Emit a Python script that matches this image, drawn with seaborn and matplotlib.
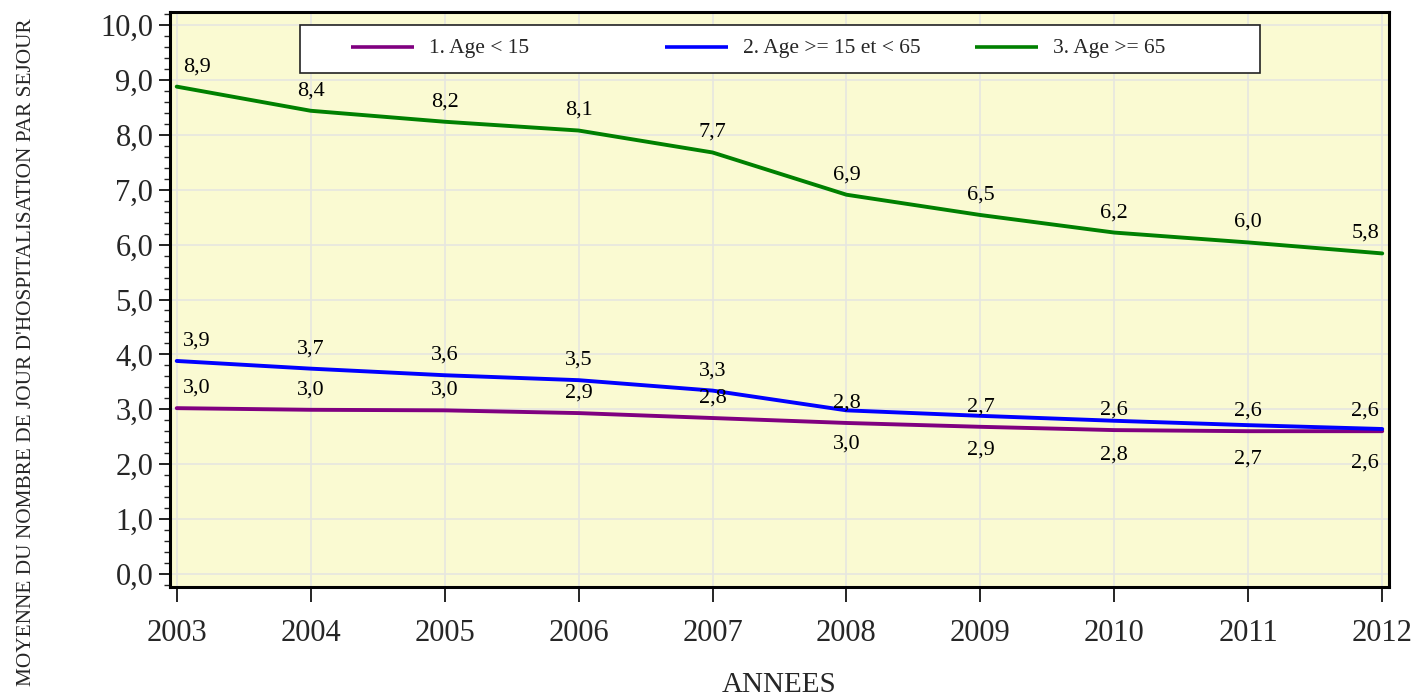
import matplotlib
matplotlib.use("Agg")
import matplotlib.pyplot as plt
import matplotlib.ticker as mticker
from matplotlib.patches import Rectangle
import numpy as np
import pandas as pd
import seaborn as sns

annees = [2003, 2004, 2005, 2006, 2007, 2008, 2009, 2010, 2011, 2012]
age_moins_15 = [3.02, 2.99, 2.98, 2.93, 2.84, 2.75, 2.68, 2.62, 2.60, 2.60]
age_15_65 = [3.88, 3.74, 3.62, 3.53, 3.34, 2.98, 2.88, 2.79, 2.71, 2.64]
age_65_plus = [8.88, 8.44, 8.24, 8.08, 7.68, 6.91, 6.54, 6.22, 6.04, 5.84]
series_names = ["1. Age < 15", "2. Age >= 15 et < 65", "3. Age >= 65"]
couleurs = ["#800080", "#0000FF", "#008000"]


def fmt_virgule(v, pos=None):
    return ("%.1f" % v).replace(".", ",")


def main():
    sns.set_style("white")
    plt.rcParams['font.family'] = ['Liberation Serif', 'DejaVu Serif']

    df = pd.DataFrame({
        "annee": annees * 3,
        "valeur": age_moins_15 + age_15_65 + age_65_plus,
        "serie": [series_names[0]] * 10 + [series_names[1]] * 10 + [series_names[2]] * 10,
    })

    fig = plt.figure(figsize=(14.18, 6.98), dpi=100)
    ax = fig.add_axes([0.1199, 0.159, 0.8596, 0.8238])
    ax.set_facecolor("#FAFAD2")

    sns.lineplot(data=df, x="annee", y="valeur", hue="serie", palette=couleurs,
                 linewidth=2.8, ax=ax, legend=False, zorder=3)

    # etiquettes de valeurs
    for i, vals in enumerate([age_moins_15, age_15_65, age_65_plus]):
        for j, (x, v) in enumerate(zip(annees, vals)):
            dy = 20
            if i == 1 and x >= 2008:
                dy = -34
            dx = 0
            if j == 0:
                dx = 20
            elif j == len(annees) - 1:
                dx = -17
            ax.annotate(fmt_virgule(round(v, 1)), (x, v), xytext=(dx, dy),
                        textcoords="offset pixels", ha="center", va="center",
                        fontsize=16, color="black", zorder=4)

    ax.set_xlim(2002.95, 2012.05)
    ax.set_ylim(-0.24, 10.24)
    ax.set_xticks(annees)
    ax.set_xticklabels([str(a) for a in annees])
    ax.yaxis.set_major_locator(mticker.MultipleLocator(1.0))
    ax.yaxis.set_minor_locator(mticker.MultipleLocator(0.2))
    ax.yaxis.set_major_formatter(mticker.FuncFormatter(fmt_virgule))
    ax.grid(True, which="major", color="#E6E6E0", linewidth=1.2, zorder=0)
    ax.set_axisbelow(True)

    ax.tick_params(axis="both", which="major", labelsize=22, length=8, width=1.2,
                   direction="out", color="black", left=True, bottom=True)
    ax.tick_params(axis="x", which="major", length=11, pad=12)
    ax.tick_params(axis="y", which="major", pad=4)
    ax.tick_params(axis="y", which="minor", length=4, width=1.0, left=True)

    for sp in ax.spines.values():
        sp.set_color("black")
        sp.set_linewidth(2.2)

    ax.set_xlabel("")
    ax.set_ylabel("")
    fig.text(0.5495, 0.018, "ANNEES", ha="center", va="center", fontsize=21)
    fig.text(0.019, 0.495, "MOYENNE DU NOMBRE DE JOUR D'HOSPITALISATION PAR SEJOUR",
             rotation=90, ha="center", va="center", fontsize=15.3)

    # legende a colonnes de largeur fixe
    def ax_x(px):
        return (px - 170) / 1219.0

    def ax_y(py):
        return (587 - py) / 575.0

    cadre = Rectangle((ax_x(300), ax_y(73)), ax_x(1260) - ax_x(300), ax_y(25) - ax_y(73),
                      transform=ax.transAxes, facecolor="white", edgecolor="#222222",
                      linewidth=1.2, zorder=5)
    ax.add_patch(cadre)
    debuts = [351, 665, 975]
    for nom, c, x0 in zip(series_names, couleurs, debuts):
        ax.plot([ax_x(x0), ax_x(x0 + 63)], [ax_y(47), ax_y(47)], color=c, linewidth=2.6,
                transform=ax.transAxes, zorder=6, solid_capstyle="butt")
        ax.text(ax_x(x0 + 78), ax_y(48), nom, transform=ax.transAxes, ha="left",
                va="center", fontsize=15.5, zorder=6)

    fig.savefig("out.png", dpi=100)


if __name__ == "__main__":
    main()
